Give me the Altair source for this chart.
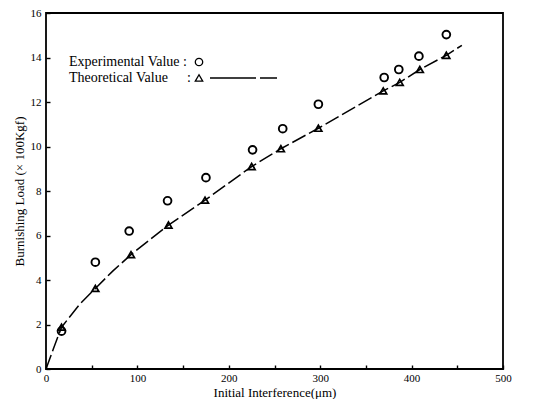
import altair as alt
import pandas as pd

# Experimental values (circles)
exp_x = [17, 54, 91, 133, 175, 226, 259, 298, 370, 386, 408, 438]
exp_y = [1.70, 4.80, 6.20, 7.56, 8.60, 9.85, 10.80, 11.90, 13.10, 13.46, 14.06, 15.03]
# Theoretical values (triangles)
theo_x = [17, 54, 93, 134, 174, 225, 257, 298, 369, 387, 409, 438]
theo_y = [1.88, 3.62, 5.14, 6.47, 7.59, 9.10, 9.90, 10.82, 12.50, 12.88, 13.46, 14.10]
# Theoretical curve (dashed)
curve_x = [0, 8, 17, 28, 37, 54, 73, 93, 134, 174, 225, 257, 298, 369, 387, 409, 438, 455]
curve_y = [0, 0.90, 1.88, 2.45, 2.92, 3.62, 4.40, 5.14, 6.47, 7.59, 9.10, 9.90, 10.82, 12.50, 12.88, 13.46, 14.10, 14.55]

legend_labels = ["Experimental Value", "Theoretical Value"]

FONT = "Liberation Serif"
W, H = 457, 356

exp_df = pd.DataFrame({"x": exp_x, "y": exp_y})
theo_df = pd.DataFrame({"x": theo_x, "y": theo_y})
curve_df = pd.DataFrame({"x": curve_x, "y": curve_y})

x_scale = alt.Scale(domain=[0, 500], nice=False)
y_scale = alt.Scale(domain=[0, 16], nice=False)

x_axis = alt.Axis(
    title="Initial Interference(μm)",
    values=list(range(0, 501, 50)),
    labelExpr="datum.value % 100 == 0 ? datum.label : ''",
    grid=False, domain=False, offset=-4, tickSize=4, tickWidth=1.4,
    tickColor="black", labelPadding=3, labelFont=FONT, labelFontSize=11,
    labelColor="black", titleFont=FONT, titleFontSize=13, titleFontWeight="normal",
    titleColor="black", titlePadding=3, labelFlush=False,
)
y_axis = alt.Axis(
    title="Burnishing Load (× 100Kgf)",
    values=list(range(0, 17, 1)),
    labelExpr="datum.value % 2 == 0 ? datum.label : ''",
    grid=False, domain=False, offset=-4, tickSize=4, tickWidth=1.4,
    tickColor="black", labelPadding=5, labelFont=FONT, labelFontSize=11,
    labelColor="black", titleFont=FONT, titleFontSize=13, titleFontWeight="normal",
    titleColor="black", titlePadding=4, labelFlush=False,
)

curve = alt.Chart(curve_df).mark_line(
    color="black", strokeWidth=1.5, strokeDash=[15, 4], interpolate="linear"
).encode(
    x=alt.X("x:Q", scale=x_scale, axis=x_axis),
    y=alt.Y("y:Q", scale=y_scale, axis=y_axis),
)

circles = alt.Chart(exp_df).mark_point(
    shape="circle", filled=False, color="black", size=60, strokeWidth=1.9, opacity=1
).encode(x="x:Q", y="y:Q")

triangles = alt.Chart(theo_df).mark_point(
    shape="triangle-up", filled=False, color="black", size=48, strokeWidth=1.7, opacity=1
).encode(x="x:Q", y="y:Q")

# Legend block (annotation, pixel-placed inside the plot)
ROW1, ROW2 = 49, 65
leg1 = alt.Chart(exp_df.iloc[[0]]).mark_text(
    align="left", baseline="middle", font=FONT, fontSize=14, color="black",
    text=legend_labels[0] + " :"
).encode(x=alt.value(23), y=alt.value(ROW1))
leg2 = alt.Chart(exp_df.iloc[[0]]).mark_text(
    align="left", baseline="middle", font=FONT, fontSize=14, color="black",
    text=legend_labels[1]
).encode(x=alt.value(23), y=alt.value(ROW2))
leg2c = alt.Chart(exp_df.iloc[[0]]).mark_text(
    align="left", baseline="middle", font=FONT, fontSize=14, color="black", text=":"
).encode(x=alt.value(141), y=alt.value(ROW2))
leg_circle = alt.Chart(exp_df.iloc[[0]]).mark_point(
    shape="circle", filled=False, color="black", size=55, strokeWidth=1.3, opacity=1
).encode(x=alt.value(153), y=alt.value(ROW1))
leg_tri = alt.Chart(exp_df.iloc[[0]]).mark_point(
    shape="triangle-up", filled=False, color="black", size=55, strokeWidth=1.3, opacity=1
).encode(x=alt.value(153), y=alt.value(ROW2))
leg_line = alt.Chart(exp_df.iloc[[0]]).mark_rule(
    color="black", strokeWidth=1.3, strokeDash=[46, 4]
).encode(x=alt.value(164), x2=alt.value(231), y=alt.value(ROW2))

chart = alt.layer(
    curve, circles, triangles, leg1, leg2, leg2c, leg_circle, leg_tri, leg_line
).properties(
    width=W, height=H,
    autosize=alt.AutoSizeParams(type="none"),
    padding={"left": 38, "top": 5, "right": 20, "bottom": 30},
    background="white",
).configure_view(stroke="black", strokeWidth=1.8)

chart.save("out.html", embed_options={"renderer": "svg", "actions": False})
